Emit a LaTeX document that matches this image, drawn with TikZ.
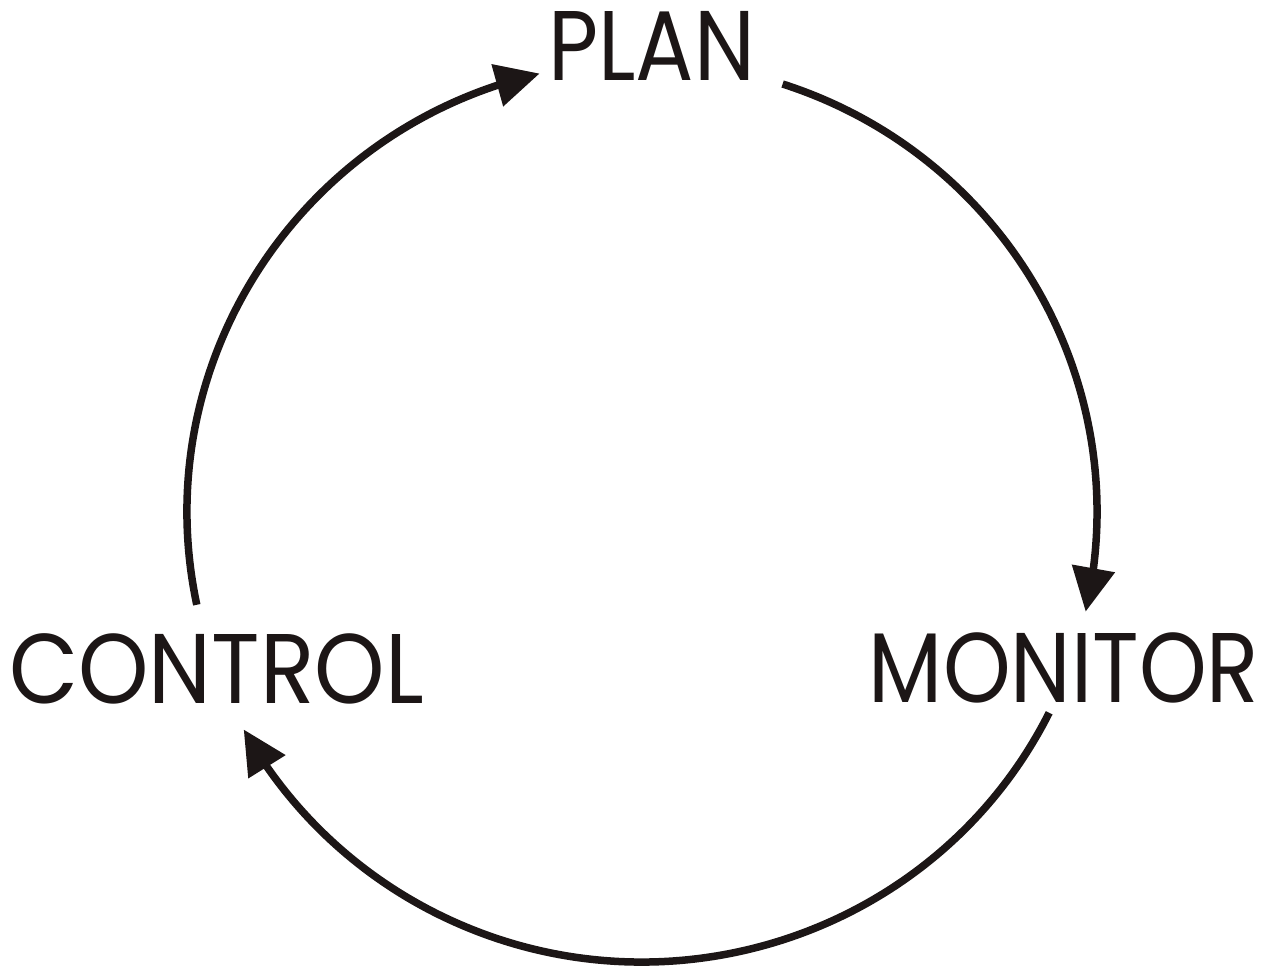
\documentclass[tikz,border=0pt]{standalone}
\usepackage{fontspec}
\setmainfont{Poppins}
\usetikzlibrary{arrows.meta,bending}
\definecolor{ink}{RGB}{28,22,22}
\begin{document}
\begin{tikzpicture}[x=1pt,y=1pt,
  lbl/.style={anchor=base,inner sep=0pt,text=ink,font=\fontsize{99}{99}\selectfont},
  cyc/.style={draw=ink,line width=7.5pt,-{Triangle[length=44pt,width=42pt]}}]
\useasboundingbox (0,0) rectangle (1279,966);
\coordinate (cen) at (642,454);
\node[lbl,xscale=0.875] (plan) at (651.5,885) {PLAN};
\node[lbl,xscale=0.87] (monitor) at (1064,263) {MONITOR};
\node[lbl,xscale=0.905] (control) at (216.5,262) {CONTROL};
\path (cen) ++(72:455 and 450) coordinate (p1);
\path (cen) ++(-26.5:455 and 450) coordinate (p2);
\path (cen) ++(191.9:455 and 450) coordinate (p3);
\draw[cyc] (p1) arc[start angle=72,end angle=-12.8,x radius=455,y radius=450];
\draw[cyc] (p2) arc[start angle=-26.5,end angle=-151.1,x radius=455,y radius=450];
\draw[cyc] (p3) arc[start angle=191.9,end angle=103,x radius=455,y radius=450];
\end{tikzpicture}
\end{document}
